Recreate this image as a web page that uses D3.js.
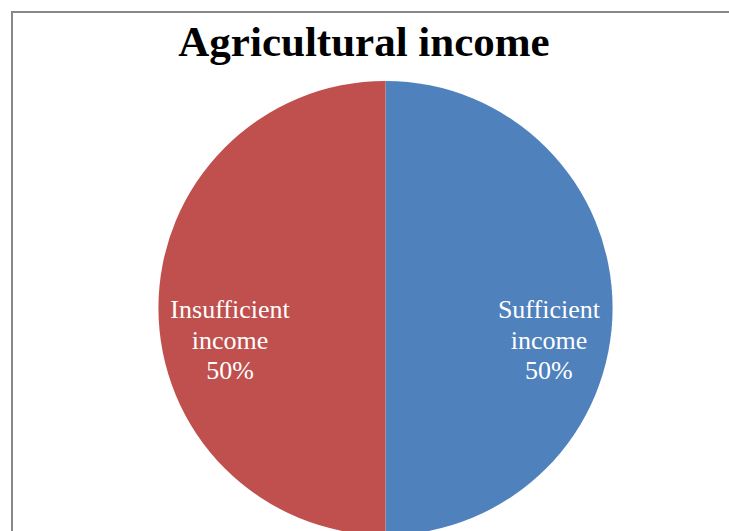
<!DOCTYPE html>
<html>
<head>
<meta charset="utf-8">
<script src="https://cdn.jsdelivr.net/npm/d3@7"></script>
<style>
  html, body { margin: 0; padding: 0; background: #fff; }
  svg { display: block; }
</style>
</head>
<body>
<svg id="chart" width="729" height="531"></svg>
<script>
var categories = ["Sufficient income", "Insufficient income"];
var labelLines = [["Sufficient", "income"], ["Insufficient", "income"]];
var values = [50, 50];
var colors = ["#4F81BD", "#C0504D"];

var svg = d3.select("#chart");
var cx = 385.5, cy = 308, radius = 227;

// chart frame (runs off the right and bottom edges)
svg.append("rect")
    .attr("x", 12)
    .attr("y", 12)
    .attr("width", 800)
    .attr("height", 700)
    .style("fill", "#fff")
    .style("stroke", "#878787")
    .style("stroke-width", 2);

svg.append("text")
    .attr("x", 364)
    .attr("y", 56)
    .attr("text-anchor", "middle")
    .attr("font-family", "'Liberation Serif', 'Times New Roman', serif")
    .attr("font-weight", "bold")
    .attr("font-size", 43)
    .text("Agricultural income");

var pie = d3.pie().sort(null).value(function(d) { return d; });
var arcs = pie(values);
var arc = d3.arc().innerRadius(0).outerRadius(radius);
var labelArc = d3.arc().innerRadius(radius * 0.72).outerRadius(radius * 0.72);

var g = svg.append("g").attr("transform", "translate(" + cx + "," + cy + ")");

g.selectAll("path.slice")
    .data(arcs)
  .enter().append("path")
    .attr("class", "slice")
    .attr("d", arc)
    .style("fill", function(d, i) { return colors[i]; });

var fmt = d3.format(".0%");
var total = d3.sum(values);

var labels = g.selectAll("text.lbl")
    .data(arcs)
  .enter().append("text")
    .attr("class", "lbl")
    .attr("text-anchor", "middle")
    .attr("font-family", "'Liberation Serif', 'Times New Roman', serif")
    .attr("font-size", 26)
    .style("fill", "#fff")
    .attr("transform", function(d) {
      var c = labelArc.centroid(d);
      // left-side label sits a little further in, like excel does
      var nudge = c[0] < 0 ? 8 : 0;
      return "translate(" + (c[0] + nudge) + "," + (c[1] + 10) + ")";
    });

labels.each(function(d, i) {
  var t = d3.select(this);
  var lines = labelLines[i].concat([fmt(d.value / total)]);
  lines.forEach(function(l, j) {
    t.append("tspan")
        .attr("x", 0)
        .attr("y", j * 30.5)
        .text(l);
  });
});
</script>
</body>
</html>
